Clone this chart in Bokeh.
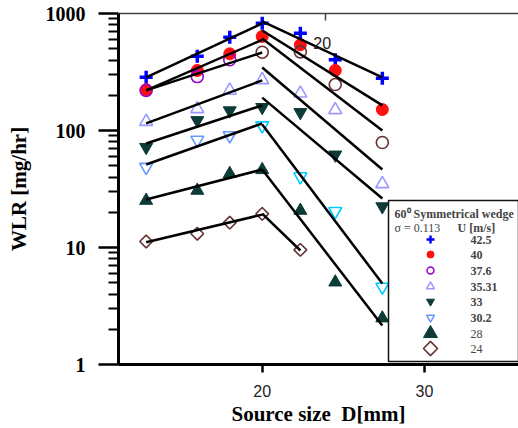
import numpy as np
from bokeh.plotting import figure
from bokeh.models import LinearAxis, FixedTicker, BoxAnnotation, Label, Range1d
from bokeh.embed import file_html
from bokeh.resources import INLINE

# ---------------- data ----------------
source_size = [12.85, 16.0, 18.0, 20.0, 22.35, 24.5, 27.4]
source_size_24 = [12.85, 16.0, 18.0, 20.0, 22.35]

wlr_42_5 = [285, 432, 627, 826, 679, 402, 280]
wlr_40 = [223, 326, 452, 636, 540, 326, 151]
wlr_37_6 = [220, 289, 402, 467, 470, 247, 79]
wlr_35_31 = [119, 153, 220, 271, 208, 150, 35]
wlr_33 = [72, 122, 148, 158, 143, 62, 22.4]
wlr_30_2 = [48.6, 83, 90.6, 110, 40.4, 20.4, 4.6]
wlr_28 = [25.2, 30.7, 42.7, 46.1, 20.7, 5.05, 2.49]
wlr_24 = [11.25, 13.1, 16.3, 19.4, 9.55]

# fitted lines (start / end values)
fit_x_rise = [12.85, 20.0]
fit_x_fall = [20.0, 27.4]
fit_x_fall_24 = [20.0, 22.35]
fit_42_5_rise = [285, 822]
fit_42_5_fall = [855, 284]
fit_40_rise = [220, 596]
fit_40_fall = [716, 164]
fit_37_6_rise = [220, 464]
fit_37_6_fall = [611, 100]
fit_35_31_rise = [115, 268]
fit_35_31_fall = [345, 46.4]
fit_33_rise = [77.4, 164]
fit_33_fall = [191, 26.2]
fit_30_2_rise = [51.2, 115]
fit_30_2_fall = [112.6, 4.92]
fit_28_rise = [25.7, 46.4]
fit_28_fall = [46.4, 2.15]
fit_24_rise = [11.1, 19.1]
fit_24_fall = [19.5, 9.43]

legend_labels = ["42.5", "40", "37.6", "35.31", "33", "30.2", "28", "24"]
legend_title = "60\u2070 Symmetrical wedge"
legend_sigma = "\u03c3 = 0.113"
legend_unit = "U [m/s]"

x_ticks = [20, 30]
y_ticks = [1, 10, 100, 1000]
y_tick_labels = ["1", "10", "100", "1000"]
top_ticks = [23.9]
stray_label = "20"
stray_pos = (23.7, 565)

# ---------------- styles ----------------
BLUE = "#0000ff"
RED = "#ff1010"
PURPLE = "#9900cc"
BROWN = "#663333"
LILAC = "#9999ff"
DKGREEN = "#0d3b38"
CORN = "#6699ff"
CYAN = "#00ccff"

X_START, X_END = 11.146, 35.79
Y_START, Y_END = 1, 1000
FRAME_L, FRAME_T, FRAME_W, FRAME_H = 118, 13, 400, 351
W, H = 518, 428

p = figure(width=W, height=H,
           x_range=Range1d(X_START, X_END), y_range=Range1d(Y_START, Y_END),
           y_axis_type="log", output_backend="svg", toolbar_location=None,
           min_border_left=FRAME_L, min_border_right=W - FRAME_L - FRAME_W,
           min_border_top=FRAME_T, min_border_bottom=H - FRAME_T - FRAME_H,
           outline_line_color=None,
           background_fill_color="white", border_fill_color="white")
p.grid.visible = False

# x axis
xa = p.xaxis[0]
xa.ticker = FixedTicker(ticks=x_ticks, minor_ticks=[])
xa.major_tick_out = 8
xa.major_tick_in = 0
xa.minor_tick_out = 0
xa.axis_line_width = 3
xa.axis_line_color = "black"
xa.major_tick_line_width = 2.5
xa.major_label_text_font = "Liberation Sans"
xa.major_label_text_font_size = "16px"
xa.major_label_text_color = "#222222"
xa.major_label_standoff = 12
xa.axis_label = "Source size\u00a0 D[mm]"
xa.axis_label_text_font = "Liberation Serif"
xa.axis_label_text_font_style = "bold"
xa.axis_label_text_font_size = "21px"
xa.axis_label_text_color = "black"
xa.axis_label_standoff = 2

# y axis
minor = [m * 10 ** d for d in range(3) for m in range(2, 10)]
ya = p.yaxis[0]
ya.ticker = FixedTicker(ticks=y_ticks, minor_ticks=minor)
ya.major_label_overrides = {t: l for t, l in zip(y_ticks, y_tick_labels)}
ya.major_tick_out = 20
ya.major_tick_in = 0
ya.minor_tick_out = 10
ya.minor_tick_in = 0
ya.axis_line_width = 3
ya.major_tick_line_width = 2.5
ya.minor_tick_line_width = 2
ya.major_label_text_font = "Liberation Serif"
ya.major_label_text_font_style = "bold"
ya.major_label_text_font_size = "20px"
ya.major_label_text_color = "black"
ya.major_label_standoff = 13
ya.axis_label = "WLR [mg/hr]"
ya.axis_label_text_font = "Liberation Serif"
ya.axis_label_text_font_style = "bold"
ya.axis_label_text_font_size = "21px"
ya.axis_label_text_color = "black"
ya.axis_label_standoff = 12

# top axis (frame top line with a single inward tick)
top = LinearAxis(ticker=FixedTicker(ticks=top_ticks, minor_ticks=[]),
                 major_tick_in=7, major_tick_out=0, minor_tick_in=0, minor_tick_out=0,
                 major_label_overrides={top_ticks[0]: " "},
                 major_label_text_font_size="1px", major_label_standoff=0,
                 axis_line_color="#444444", axis_line_width=1.5,
                 major_tick_line_color="#444444", major_tick_line_width=1.5)
p.add_layout(top, "above")

# ---------------- markers ----------------
p.scatter(source_size, wlr_42_5, marker="cross", size=13, line_color=BLUE, line_width=3.5)
p.scatter(source_size, wlr_40, marker="circle", size=12, fill_color=RED, line_color=RED)
p.scatter(source_size, wlr_37_6, marker="circle", size=12, fill_color=None,
          line_color=[PURPLE, PURPLE, PURPLE, BROWN, BROWN, BROWN, BROWN], line_width=1.6)
p.scatter(source_size, wlr_35_31, marker="triangle", size=13, fill_color=None,
          line_color=LILAC, line_width=1.6)
p.scatter(source_size, wlr_33, marker="inverted_triangle", size=13, fill_color=DKGREEN,
          line_color=DKGREEN)
p.scatter(source_size, wlr_30_2, marker="inverted_triangle", size=13, fill_color=None,
          line_color=[CORN, CORN, CORN, CYAN, CYAN, CYAN, CYAN], line_width=1.6)
p.scatter(source_size, wlr_28, marker="triangle", size=13, fill_color=DKGREEN,
          line_color=DKGREEN)
p.scatter(source_size_24, wlr_24, marker="square", size=9, angle=np.pi / 4,
          fill_color=None, line_color=BROWN, line_width=1.6)

# ---------------- fitted lines ----------------
rises = [fit_42_5_rise, fit_40_rise, fit_37_6_rise, fit_35_31_rise, fit_33_rise,
         fit_30_2_rise, fit_28_rise, fit_24_rise]
falls = [(fit_x_fall, fit_42_5_fall), (fit_x_fall, fit_40_fall), (fit_x_fall, fit_37_6_fall),
         (fit_x_fall, fit_35_31_fall), (fit_x_fall, fit_33_fall), (fit_x_fall, fit_30_2_fall),
         (fit_x_fall, fit_28_fall), (fit_x_fall_24, fit_24_fall)]
for r in rises:
    p.line(fit_x_rise, r, line_color="black", line_width=2.5)
for fx, f in falls:
    p.line(fx, f, line_color="black", line_width=2.5)

# stray label near top
p.add_layout(Label(x=stray_pos[0], y=stray_pos[1], text=stray_label,
                   text_font="Liberation Sans", text_font_size="16px",
                   text_color="#222222", text_align="center", text_baseline="middle"))

# ---------------- legend (manual) ----------------


def sx(px):
    return X_START + (px - FRAME_L) / FRAME_W * (X_END - X_START)


def sy(py):
    return 10 ** (np.log10(Y_START) + (FRAME_T + FRAME_H - py) / FRAME_H
                  * (np.log10(Y_END) - np.log10(Y_START)))


p.add_layout(BoxAnnotation(left=sx(388), top=sy(200), bottom=sy(361),
                           fill_color="white", fill_alpha=1.0,
                           line_color="#111111", line_width=1.5, line_alpha=1.0))

serif = "Liberation Serif"
p.add_layout(Label(x=sx(394), y=sy(213), text=legend_title, text_font=serif,
                   text_font_style="bold", text_font_size="12px", text_baseline="middle",
                   level="overlay"))
p.add_layout(Label(x=sx(394), y=sy(227), text=legend_sigma, text_font=serif,
                   text_font_size="12px", text_baseline="middle", level="overlay"))
p.add_layout(Label(x=sx(457), y=sy(227), text=legend_unit, text_font=serif,
                   text_font_style="bold", text_font_size="12px", text_baseline="middle",
                   level="overlay"))

row_y = [239, 254, 270, 286, 301, 317, 333, 348]
leg_styles = [
    dict(marker="cross", size=8, line_color=BLUE, line_width=2.5),
    dict(marker="circle", size=7, fill_color=RED, line_color=RED),
    dict(marker="circle", size=7, fill_color=None, line_color=PURPLE, line_width=1.5),
    dict(marker="triangle", size=8, fill_color=None, line_color=LILAC, line_width=1.5),
    dict(marker="inverted_triangle", size=8, fill_color=DKGREEN, line_color=DKGREEN),
    dict(marker="inverted_triangle", size=8, fill_color=None, line_color=CORN, line_width=1.5),
    dict(marker="triangle", size=14, fill_color=DKGREEN, line_color=DKGREEN),
    dict(marker="square", size=10, angle=np.pi / 4, fill_color=None, line_color=BROWN,
         line_width=1.6),
]
for i, (lab, st) in enumerate(zip(legend_labels, leg_styles)):
    r = p.scatter([sx(430)], [sy(row_y[i])], **st)
    r.level = "overlay"
    p.add_layout(Label(x=sx(470), y=sy(row_y[i]), text=lab, text_font=serif,
                       text_font_style="bold" if i < 6 else "normal",
                       text_font_size="12px", text_baseline="middle", level="overlay"))

open("out.html", "w").write(file_html(p, INLINE))
